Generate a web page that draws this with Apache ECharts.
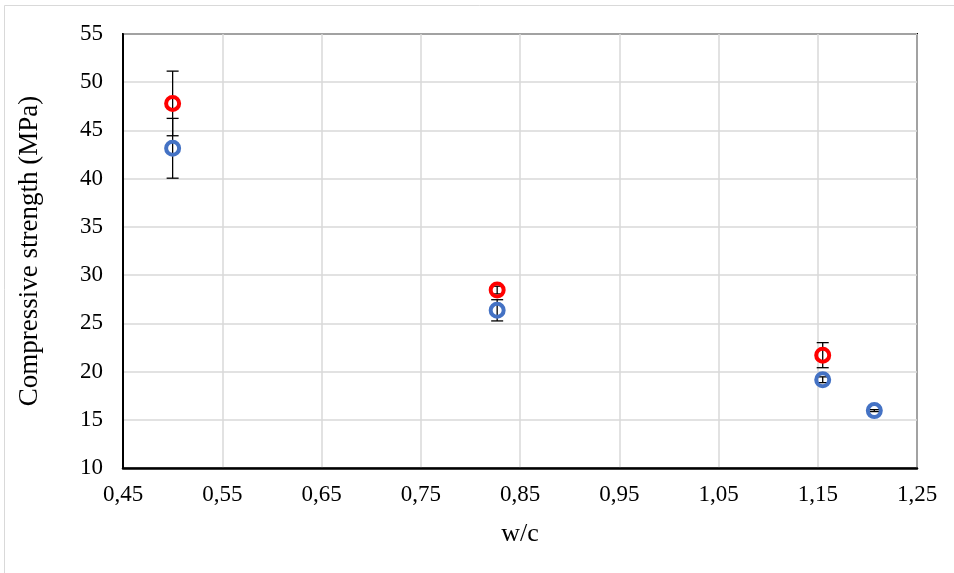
<!DOCTYPE html>
<html>
<head>
<meta charset="utf-8">
<script src="https://cdn.jsdelivr.net/npm/echarts@6/dist/echarts.min.js"></script>
<style>html,body{margin:0;padding:0;background:#fff;}#c{width:954px;height:573px;}</style>
</head>
<body>
<div id="c"></div>
<script>
// w/c ratios
var wcRed = [0.500, 0.827, 1.155];
var strengthRed = [47.8, 28.45, 21.7];
var errRed = [3.35, 0.4, 1.3];

var wcBlue = [0.500, 0.827, 1.155, 1.207];
var strengthBlue = [43.15, 26.35, 19.15, 15.95];
var errBlue = [3.1, 1.1, 0.3, 0.1];

var xTickLabels = ['0,45','0,55','0,65','0,75','0,85','0,95','1,05','1,15','1,25'];
var X0 = 0.45; // axis origin (w/c)

var font = '"Liberation Serif", "Times New Roman", serif';

function pts(xs, ys) { return xs.map(function (x, i) { return [x - X0, ys[i]]; }); }
function errs(xs, ys, es) { return xs.map(function (x, i) { return [x - X0, ys[i] - es[i], ys[i] + es[i]]; }); }

function renderErr(params, api) {
  var x = api.value(0), lo = api.value(1), hi = api.value(2);
  var pLo = api.coord([x, lo]), pHi = api.coord([x, hi]);
  var w = 6;
  var st = { stroke: '#000', lineWidth: 1.3 };
  return { type: 'group', children: [
    { type: 'line', shape: { x1: pLo[0], y1: pLo[1], x2: pHi[0], y2: pHi[1] }, style: st },
    { type: 'line', shape: { x1: pLo[0] - w, y1: pLo[1], x2: pLo[0] + w, y2: pLo[1] }, style: st },
    { type: 'line', shape: { x1: pHi[0] - w, y1: pHi[1], x2: pHi[0] + w, y2: pHi[1] }, style: st }
  ]};
}

var chart = echarts.init(document.getElementById('c'), null, { renderer: 'canvas' });
chart.setOption({
  backgroundColor: '#fff',
  animation: false,
  graphic: [{
    type: 'rect', z: -10, silent: true,
    shape: { x: 4.5, y: 5.5, width: 1000, height: 1000 },
    style: { fill: 'none', stroke: '#d9d9d9', lineWidth: 1 }
  }],
  grid: { left: 123, right: 37, top: 34, bottom: 105, show: true, borderColor: '#000', borderWidth: 2, backgroundColor: 'transparent' },
  xAxis: {
    type: 'value', min: 0, max: 0.8, interval: 0.1,
    name: 'w/c', nameLocation: 'middle', nameGap: 53,
    nameTextStyle: { fontFamily: font, fontSize: 26, color: '#000' },
    axisLine: { show: true, lineStyle: { color: '#000', width: 2.5 } },
    axisTick: { show: false },
    splitLine: { show: true, lineStyle: { color: '#d9d9d9', width: 1.5 } },
    axisLabel: {
      fontFamily: font, fontSize: 23, color: '#000', margin: 15,
      formatter: function (v) { var i = Math.round(v / 0.1); return xTickLabels[i]; }
    }
  },
  yAxis: {
    type: 'value', min: 10, max: 55, interval: 5,
    name: 'Compressive strength (MPa)', nameLocation: 'middle', nameGap: 80,
    nameTextStyle: { fontFamily: font, fontSize: 27, color: '#000' },
    axisLine: { show: true, lineStyle: { color: '#000', width: 2 } },
    axisTick: { show: false },
    splitLine: { show: true, lineStyle: { color: '#d9d9d9', width: 1.5 } },
    axisLabel: { fontFamily: font, fontSize: 23, color: '#000', margin: 20 }
  },
  series: [
    { type: 'custom', renderItem: renderErr, data: errs(wcRed, strengthRed, errRed), z: 3, encode: { x: 0, y: [1, 2] } },
    { type: 'custom', renderItem: renderErr, data: errs(wcBlue, strengthBlue, errBlue), z: 3, encode: { x: 0, y: [1, 2] } },
    { type: 'scatter', data: pts(wcBlue, strengthBlue), symbol: 'circle', symbolSize: 13, z: 4,
      itemStyle: { color: 'rgba(255,255,255,0)', borderColor: '#4472C4', borderWidth: 4, opacity: 1 } },
    { type: 'scatter', data: pts(wcRed, strengthRed), symbol: 'circle', symbolSize: 13, z: 5,
      itemStyle: { color: 'rgba(255,255,255,0)', borderColor: '#FF0000', borderWidth: 4, opacity: 1 } }
  ]
});
</script>
</body>
</html>
